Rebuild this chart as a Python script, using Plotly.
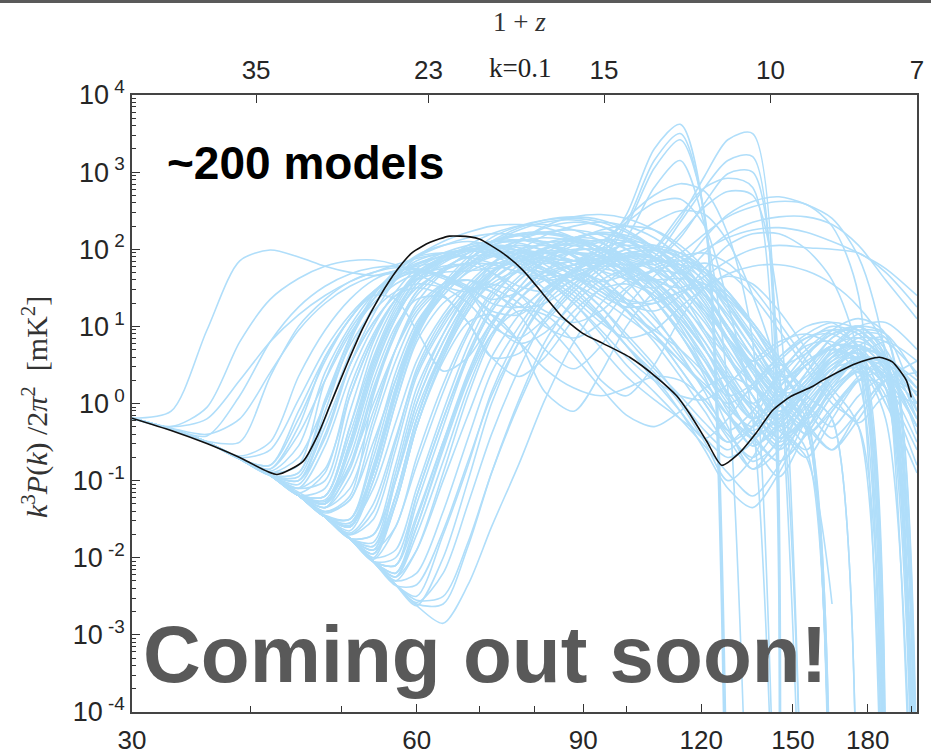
import math
import plotly.graph_objects as go

# ---------------------------------------------------------------------------
# Frequency grid (MHz) shared by the model ensemble
FREQ_GRID = [30, 33, 36, 39, 42, 45, 48, 51, 54, 57, 60, 64, 68, 72, 77,
             82, 88, 94, 100, 107, 114, 121, 128, 136, 145, 155, 165, 176,
             188, 202.9]

# Common adiabatic branch shared by all models before coupling (log10 mK^2)
COLD = [-0.19, -0.33, -0.50, -0.72, -0.93, -1.19, -1.47, -1.75, -2.05,
        -2.35, -2.62, -2.95]

# Models with early Ly-alpha coupling (log10 power on FREQ_GRID)
early_coupling = [
    [-0.19, -0.1, 0.95, 1.85, 1.99, 1.90, 1.78, 1.70, 1.66, 1.70, 1.80, 1.92, 2.02, 2.05, 1.98,
     1.80, 1.55, 1.25, 0.9, 0.5, 0.05, -0.35, -0.6, -0.3, 0.2, 0.55, 0.7, 0.5, -0.2, -8],
    [-0.19, -0.3, -0.05, 0.8, 1.35, 1.62, 1.78, 1.85, 1.86, 1.80, 1.68, 1.52, 1.45, 1.6, 1.85,
     2.02, 2.05, 1.9, 1.6, 1.15, 0.65, 0.15, -0.35, -0.1, 0.4, 0.75, 0.8, 0.45, -8],
    [-0.19, -0.33, -0.42, 0.1, 0.8, 1.25, 1.52, 1.68, 1.76, 1.78, 1.74, 1.62, 1.48, 1.52, 1.72,
     1.95, 2.12, 2.08, 1.88, 1.5, 1.0, 0.45, -0.1, -0.55, -0.25, 0.25, 0.6, 0.65, 0.3, -0.5],
    [-0.19, -0.33, -0.49, -0.5, 0.35, 1.0, 1.35, 1.58, 1.7, 1.76, 1.75, 1.66, 1.52, 1.3, 1.25,
     1.48, 1.75, 1.88, 1.72, 1.35, 0.9, 0.35, -0.3, -0.85, -0.45, 0.1, 0.45, 0.5, -8],
    [-0.19, -0.33, -0.50, -0.68, -0.5, 0.35, 0.95, 1.35, 1.6, 1.72, 1.74, 1.66, 1.45, 1.05, 0.78,
     0.92, 1.3, 1.6, 1.72, 1.58, 1.22, 0.72, 0.12, -0.5, -0.95, -0.35, 0.2, 0.42, 0.1, -8],
    [-0.19, -0.3, -0.2, 0.3, 0.8, 1.15, 1.4, 1.58, 1.7, 1.8, 1.88, 1.95, 2.0, 2.0, 1.92,
     1.75, 1.5, 1.15, 0.75, 0.3, -0.1, -0.45, -0.2, 0.25, 0.6, 0.85, 0.9, 0.6, -8],
    [-0.19, -0.32, -0.4, -0.2, 0.4, 0.95, 1.3, 1.52, 1.65, 1.72, 1.78, 1.85, 1.95, 2.08, 2.18,
     2.2, 2.12, 1.95, 1.7, 1.35, 0.9, 0.4, -0.05, -0.3, 0.1, 0.5, 0.7, 0.55, 0.0, -0.9],
]

mid_coupling = [
    COLD[:4] + [-0.85, -0.3, 0.6, 1.1, 1.45, 1.68, 1.82, 1.9, 1.9, 1.82, 1.7, 1.65, 1.8, 2.0,
                2.1, 2.05, 1.85, 1.45, 0.95, 0.4, -0.1, 0.2, 0.6, 0.85, 0.8, 0.4],
    COLD[:4] + [-0.9, -0.8, 0.3, 0.95, 1.35, 1.62, 1.8, 1.95, 2.05, 2.1, 2.08, 1.98, 1.8, 1.55,
                1.2, 0.8, 0.35, -0.1, -0.5, -0.2, 0.35, 0.8, 1.0, 0.9, 0.4, -8],
    COLD[:5] + [-1.1, -1.0, 0.1, 0.85, 1.35, 1.65, 1.88, 2.02, 2.1, 2.12, 2.05, 1.92, 1.72,
                1.45, 1.1, 0.7, 0.3, -0.15, -0.55, -0.3, 0.15, 0.5, 0.6, 0.3, -8],
    COLD[:5] + [-1.15, -1.3, -0.5, 0.55, 1.15, 1.5, 1.72, 1.82, 1.8, 1.7, 1.6, 1.65, 1.8,
                1.92, 1.9, 1.7, 1.3, 0.8, 0.25, -0.3, -0.7, -0.2, 0.3, 0.5, 0.2],
    COLD[:5] + [-1.18, -1.4, -1.2, 0.1, 0.9, 1.4, 1.72, 1.95, 2.1, 2.2, 2.22, 2.15, 2.0,
                1.78, 1.5, 1.15, 0.7, 0.25, -0.2, 0.1, 0.5, 0.75, 0.7, -8],
    COLD[:4] + [-0.9, -0.7, 0.0, 0.75, 1.2, 1.45, 1.55, 1.5, 1.3, 1.0, 0.85, 1.1, 1.5, 1.8,
                1.95, 1.9, 1.7, 1.35, 0.85, 0.3, -0.25, -0.6, -0.1, 0.35, 0.55, 0.3],
    COLD[:3] + [-0.7, -0.6, 0.05, 0.7, 1.15, 1.45, 1.62, 1.7, 1.65, 1.5, 1.35, 1.45, 1.72,
                1.98, 2.12, 2.1, 1.95, 1.65, 1.2, 0.65, 0.1, -0.45, -0.15, 0.3, 0.55, 0.45, -8],
    COLD[:4] + [-0.88, -0.55, 0.4, 1.0, 1.42, 1.7, 1.9, 2.05, 2.15, 2.2, 2.18, 2.08, 1.9,
                1.65, 1.3, 0.9, 0.45, 0.0, -0.4, -0.7, -0.3, 0.2, 0.55, 0.65, 0.35, -0.3],
    COLD[:5] + [-1.05, -0.4, 0.5, 1.05, 1.4, 1.6, 1.7, 1.72, 1.75, 1.85, 2.0, 2.15, 2.22,
                2.18, 2.02, 1.75, 1.4, 0.95, 0.5, 0.1, -0.3, -0.6, -0.1, 0.3, 0.4],
    COLD[:5] + [-1.16, -0.9, 0.2, 0.9, 1.35, 1.62, 1.78, 1.8, 1.7, 1.52, 1.45, 1.6, 1.82,
                2.0, 2.05, 1.95, 1.7, 1.3, 0.8, 0.25, -0.2, 0.15, 0.5, 0.6, 0.2],
]

late_coupling = [
    COLD[:6] + [-1.27, -0.8, 0.0, 0.7, 1.2, 1.55, 1.8, 1.98, 2.1, 2.15, 2.1, 1.95, 1.7,
                1.35, 0.9, 0.45, 0.0, -0.35, -0.05, 0.4, 0.75, 0.85, 0.5, -8],
    COLD[:6] + [-1.42, -1.25, -0.5, 0.3, 0.95, 1.4, 1.72, 1.95, 2.12, 2.22, 2.25, 2.18, 2.0,
                1.72, 1.35, 0.9, 0.4, -0.1, -0.5, -0.2, 0.3, 0.6, 0.5, -8],
    COLD[:7] + [-1.58, -1.1, -0.25, 0.55, 1.15, 1.55, 1.82, 1.95, 1.95, 1.85, 1.72, 1.62,
                1.6, 1.62, 1.55, 1.3, 0.8, 0.2, -0.3, -8],
    COLD[:8] + [-1.7, -1.0, -0.1, 0.7, 1.25, 1.65, 1.92, 2.08, 2.15, 2.12, 2.0, 1.8, 1.5,
                1.1, 0.6, 0.1, -0.3, 0.05, 0.45, 0.7, 0.6, 0.1],
    COLD[:8] + [-2.02, -1.6, -0.8, 0.15, 0.9, 1.4, 1.75, 2.0, 2.15, 2.2, 2.15, 2.0, 1.75,
                1.4, 0.95, 0.45, 0.0, -0.4, -0.1, 0.3, 0.4, -0.2],
    COLD[:9] + [-2.25, -1.9, -1.0, -0.15, 0.6, 1.15, 1.5, 1.7, 1.78, 1.75, 1.62, 1.4, 1.05,
                0.6, 0.1, -0.35, -0.7, -2.6],
    COLD[:9] + [-2.36, -2.35, -1.65, -0.75, 0.1, 0.8, 1.3, 1.62, 1.82, 1.9, 1.88, 1.75, 1.5,
                1.1, 0.6, 0.15, 0.2, 0.55, 0.75, 0.55, -0.1],
    COLD[:10] + [-2.62, -2.85, -2.35, -1.6, -0.78, 0.05, 0.8, 1.3, 1.6, 1.72, 1.68, 1.5,
                 1.15, 0.7, 0.2, -0.3, -8],
    COLD[:7] + [-1.68, -1.3, -0.45, 0.4, 1.05, 1.5, 1.78, 1.9, 1.88, 1.75, 1.55, 1.35, 1.3,
                1.45, 1.55, 1.4, 1.0, 0.45, -0.1, -10],
    COLD[:9] + [-2.1, -1.45, -0.5, 0.35, 1.0, 1.5, 1.85, 2.05, 2.12, 2.05, 1.88, 1.6, 1.25,
                0.8, 0.3, -0.1, 0.25, 0.6, 0.75, 0.45, -0.3],
    COLD[:10] + [-2.58, -2.2, -1.3, -0.4, 0.45, 1.1, 1.55, 1.85, 2.0, 2.02, 1.9, 1.65, 1.3,
                 0.85, 0.4, 0.0, -0.3, 0.1, 0.35, 0.0],
]

band_models = [
    COLD[:6] + [-1.3, -0.6, 0.4, 1.1, 1.55, 1.85, 2.05, 2.2, 2.3, 2.32, 2.25, 2.1, 1.85,
                1.5, 1.05, 0.55, 0.05, -0.4, -0.75, -0.4, 0.1, 0.45, 0.35, -8],
    COLD[:7] + [-1.55, -0.9, 0.1, 0.95, 1.5, 1.85, 2.08, 2.25, 2.35, 2.38, 2.3, 2.12, 1.85,
                1.45, 0.95, 0.45, 0.0, -0.2, 0.15, 0.6, 0.9, 0.85, -6],
    COLD[:5] + [-1.0, -0.2, 0.65, 1.25, 1.6, 1.72, 1.65, 1.45, 1.2, 1.15, 1.4, 1.72, 1.95,
                2.05, 2.0, 1.8, 1.45, 1.0, 0.5, 0.0, -0.3, 0.2, 0.6, 0.8, 0.55],
    COLD[:8] + [-1.9, -1.2, -0.2, 0.65, 1.25, 1.68, 1.98, 2.18, 2.3, 2.35, 2.3, 2.15, 1.9,
                1.55, 1.1, 0.6, 0.15, -0.25, -0.6, -0.2, 0.3, 0.55],
    COLD[:6] + [-1.35, -0.95, -0.1, 0.7, 1.25, 1.55, 1.6, 1.45, 1.25, 1.3, 1.55, 1.8, 1.95,
                1.98, 1.9, 1.7, 1.4, 1.0, 0.55, 0.1, -0.2, -12],
    COLD[:4] + [-0.85, -0.4, 0.3, 0.9, 1.3, 1.55, 1.68, 1.75, 1.82, 1.95, 2.12, 2.28, 2.35,
                2.3, 2.15, 1.9, 1.55, 1.15, 0.7, 0.25, -0.15, 0.15, 0.5, 0.7, 0.6, 0.1],
    COLD[:9] + [-2.2, -1.6, -0.55, 0.35, 1.0, 1.5, 1.85, 2.1, 2.25, 2.3, 2.25, 2.05, 1.75,
                1.35, 0.9, 0.5, 0.65, 0.9, 1.0, 0.6, -8],
    COLD[:7] + [-1.7, -1.4, -0.5, 0.45, 1.1, 1.45, 1.55, 1.42, 1.2, 1.05, 1.2, 1.5, 1.72,
                1.8, 1.7, 1.45, 1.05, 0.6, 0.2, 0.45, 0.75, 0.85, -5],
    COLD[:6] + [-1.4, -1.25, -0.3, 0.55, 1.15, 1.5, 1.6, 1.5, 1.3, 1.0, 0.85, 1.05, 1.45,
                1.75, 1.85, 1.75, 1.45, 1.0, 0.45, -0.05, -0.45, -0.1, 0.3, 0.15],
    COLD[:10] + [-2.6, -2.6, -1.85, -0.9, 0.05, 0.8, 1.35, 1.7, 1.92, 2.0, 1.95, 1.75, 1.45,
                 1.05, 0.6, 0.2, 0.45, 0.7, 0.6, 0.0],
    COLD[:8] + [-2.0, -1.9, -1.1, -0.1, 0.75, 1.35, 1.75, 2.0, 2.15, 2.2, 2.12, 1.95, 1.7,
                1.4, 1.0, 0.6, 0.3, 0.5, 0.75, 0.7, 0.2, -0.6],
    COLD[:5] + [-1.1, -0.85, 0.1, 0.85, 1.35, 1.65, 1.85, 1.98, 2.05, 2.02, 1.88, 1.65, 1.4,
                1.25, 1.3, 1.45, 1.5, 1.35, 1.0, 0.55, 0.1, -0.2, -8],
    COLD[:7] + [-1.6, -0.85, 0.2, 1.0, 1.55, 1.9, 2.15, 2.3, 2.38, 2.4, 2.35, 2.22, 2.02,
                1.75, 1.4, 1.0, 0.55, 0.75, 1.0, 1.05, 0.7, 0.0],
    COLD[:9] + [-2.1, -1.2, -0.2, 0.6, 1.2, 1.6, 1.85, 1.98, 2.0, 1.92, 1.75, 1.5, 1.2,
                0.85, 0.45, 0.05, -0.4, -0.05, 0.3, 0.2, -9],
    COLD[:6] + [-1.45, -1.5, -0.85, 0.15, 0.95, 1.5, 1.85, 2.08, 2.2, 2.22, 2.15, 2.0, 1.75,
                1.45, 1.1, 0.7, 0.3, 0.0, 0.35, 0.7, 0.95, 0.9, 0.5, -0.2],
]

# Models whose power falls early, after a modest heating peak
early_heating = [
    COLD[:5] + [-0.9, 0.0, 0.85, 1.4, 1.72, 1.9, 1.95, 1.88, 1.7, 1.42, 1.05, 0.62, 0.2,
                -0.15, -0.3, -0.1, 0.2, 0.35, 0.2, -0.2, -0.6, -8],
    COLD[:6] + [-1.2, -0.3, 0.7, 1.3, 1.68, 1.9, 1.98, 1.92, 1.75, 1.48, 1.12, 0.72, 0.35,
                0.05, -0.2, -0.45, -0.7, -0.5, 0.05, 0.5, 0.7, 0.55, -8],
    COLD[:7] + [-1.6, -0.9, 0.1, 0.9, 1.4, 1.7, 1.82, 1.78, 1.6, 1.3, 0.9, 0.5, 0.15, -0.2,
                -0.55, -0.9, -1.2, -0.8, -0.1, 0.35, 0.5, 0.2, -9],
    COLD[:8] + [-1.95, -1.3, -0.3, 0.6, 1.2, 1.55, 1.72, 1.7, 1.55, 1.25, 0.85, 0.45, 0.1,
                -0.25, -0.5, -0.3, 0.2, 0.65, 0.9, 0.95, 0.6, -0.4],
    COLD[:9] + [-2.25, -1.7, -0.75, 0.2, 0.9, 1.35, 1.6, 1.68, 1.6, 1.35, 1.0, 0.6, 0.2,
                -0.15, -0.45, -0.75, -0.4, 0.1, 0.4, -8],
    COLD[:4] + [-0.8, -0.1, 0.6, 1.1, 1.45, 1.65, 1.72, 1.65, 1.45, 1.15, 0.8, 0.45, 0.2,
                0.1, 0.2, 0.35, 0.3, 0.05, -0.35, -0.75, -0.5, 0.0, 0.35, 0.45, -7],
    COLD[:10] + [-2.55, -2.5, -1.8, -0.9, 0.0, 0.7, 1.2, 1.48, 1.55, 1.4, 1.1, 0.7, 0.3,
                 -0.1, -0.45, -0.2, 0.25, 0.55, 0.5, -8],
    COLD[:6] + [-1.3, -0.85, 0.15, 0.95, 1.45, 1.75, 1.9, 1.92, 1.85, 1.72, 1.55, 1.35,
                1.12, 0.85, 0.55, 0.25, 0.0, 0.2, 0.55, 0.85, 0.95, 0.75, 0.2, -8],
    COLD[:7] + [-1.7, -1.5, -0.6, 0.35, 1.0, 1.45, 1.72, 1.85, 1.85, 1.72, 1.5, 1.22, 0.9,
                0.55, 0.2, -0.15, -0.45, -0.15, 0.3, 0.65, 0.8, 0.6, 0.0],
    COLD[:5] + [-1.1, -0.55, 0.35, 1.0, 1.45, 1.75, 1.92, 1.98, 1.95, 1.82, 1.6, 1.3, 0.95,
                0.6, 0.3, 0.1, 0.05, 0.25, 0.55, 0.8, 0.9, 0.75, 0.3, -8],
    COLD[:8] + [-1.9, -1.6, -0.7, 0.25, 0.95, 1.45, 1.8, 2.0, 2.08, 2.02, 1.85, 1.6, 1.3,
                0.95, 0.6, 0.25, 0.0, 0.3, 0.7, 0.95, 0.9, 0.35],
    COLD[:9] + [-2.3, -2.2, -1.4, -0.45, 0.4, 1.0, 1.45, 1.72, 1.85, 1.85, 1.72, 1.5, 1.2,
                0.85, 0.5, 0.15, 0.35, 0.75, 1.0, 0.9, -0.1],
    COLD[:6] + [-1.35, -1.1, -0.2, 0.7, 1.3, 1.7, 1.95, 2.1, 2.18, 2.2, 2.15, 2.02, 1.82,
                1.55, 1.2, 0.8, 0.35, -0.05, -0.35, -0.05, 0.4, 0.7, 0.55, -8],
    COLD[:7] + [-1.6, -1.0, 0.0, 0.85, 1.45, 1.85, 2.1, 2.28, 2.38, 2.42, 2.38, 2.25, 2.02,
                1.7, 1.3, 0.85, 0.4, 0.0, 0.3, 0.65, 0.75, 0.4, -8],
    COLD[:8] + [-1.85, -1.2, -0.2, 0.7, 1.35, 1.8, 2.1, 2.3, 2.42, 2.45, 2.4, 2.25, 2.0,
                1.65, 1.2, 0.7, 0.2, -0.2, -8],
    COLD[:5] + [-1.0, -0.45, 0.5, 1.15, 1.6, 1.9, 2.1, 2.22, 2.3, 2.32, 2.28, 2.15, 1.95,
                1.68, 1.35, 0.95, 0.55, 0.15, -0.2, 0.1, 0.5, 0.75, 0.7, 0.2, -0.8],
]

# Models whose power dips between the coupling and heating peaks
dip_models = [
    COLD[:4] + [-0.8, -0.2, 0.55, 1.1, 1.4, 1.35, 0.95, 0.42, 0.6, 1.05, 1.45, 1.72, 1.85,
                1.85, 1.72, 1.5, 1.15, 0.7, 0.25, -0.2, -0.55, -0.15, 0.3, 0.5, 0.2, -8],
    COLD[:6] + [-1.3, -0.7, 0.3, 1.0, 1.35, 1.38, 1.05, 0.6, 0.65, 1.05, 1.45, 1.75, 1.9,
                1.88, 1.72, 1.4, 0.95, 0.45, 0.0, -0.35, -8],
    COLD[:8] + [-1.95, -1.3, -0.3, 0.55, 1.05, 1.15, 0.8, 0.15, -0.1, 0.4, 1.0, 1.45, 1.72,
                1.82, 1.7, 1.4, 0.95, 0.45, 0.0, -0.3, -7],
    COLD[:5] + [-1.0, -0.3, 0.5, 1.05, 1.4, 1.5, 1.4, 1.05, 0.6, 0.35, 0.6, 1.1, 1.5, 1.75,
                1.85, 1.8, 1.6, 1.25, 0.8, 0.35, 0.5, 0.85, 1.0, 0.6, -8],
    COLD[:7] + [-1.65, -1.0, 0.0, 0.8, 1.3, 1.5, 1.45, 1.15, 0.7, 0.45, 0.75, 1.25, 1.65,
                1.9, 1.95, 1.82, 1.5, 1.05, 0.55, 0.1, -0.25, 0.1, 0.0],
    COLD[:9] + [-2.25, -1.6, -0.6, 0.3, 0.9, 1.2, 1.15, 0.8, 0.3, 0.1, 0.5, 1.1, 1.5, 1.65,
                1.55, 1.2, 0.7, 0.2, -0.3, -8],
]

# Models with a deep trough and a late reionization bump
tail_models = [
    COLD[:5] + [-0.95, -0.1, 0.8, 1.35, 1.7, 1.92, 2.05, 2.1, 2.05, 1.92, 1.72, 1.45, 1.12,
                0.75, 0.35, -0.1, -0.6, -1.1, -1.35, -0.9, -0.2, 0.35, 0.6, 0.4, -0.3],
    COLD[:7] + [-1.5, -0.7, 0.3, 1.0, 1.5, 1.85, 2.05, 2.12, 2.08, 1.92, 1.65, 1.3, 0.9,
                0.45, 0.0, -0.45, -0.85, -0.6, 0.1, 0.7, 1.0, 1.05, 0.7],
    COLD[:6] + [-1.2, -0.3, 0.6, 1.25, 1.65, 1.9, 2.0, 1.98, 1.85, 1.65, 1.4, 1.1, 0.75,
                0.4, 0.0, -0.5, -1.0, -0.7, 0.0, 0.6, 0.95, 1.1, 0.9, -8],
    COLD[:8] + [-1.85, -1.0, 0.0, 0.8, 1.35, 1.7, 1.9, 1.98, 1.95, 1.85, 1.65, 1.4, 1.05,
                0.6, 0.1, -0.4, -0.2, 0.4, 0.85, 1.0, 0.7, -0.2],
    COLD[:9] + [-2.0, -1.2, -0.2, 0.65, 1.25, 1.65, 1.9, 2.0, 1.98, 1.85, 1.6, 1.25, 0.8,
                0.3, -0.2, -0.6, -0.2, 0.3, 0.6, -11],
    COLD[:6] + [-1.25, -0.55, 0.45, 1.1, 1.55, 1.82, 1.98, 2.05, 2.02, 1.9, 1.7, 1.45, 1.2,
                0.95, 0.7, 0.4, 0.1, 0.25, 0.6, 0.9, 1.05, 0.95, 0.5, -8],
]

# Strong absorption models (tall peaks before reionization ends)
absorption_peaks = [
    COLD[:7] + [-1.6, -0.8, 0.2, 0.95, 1.45, 1.75, 1.9, 1.95, 1.9, 1.85, 2.0, 2.45, 3.3,
                3.62, 2.4, -8],
    COLD[:8] + [-1.7, -0.8, 0.2, 0.9, 1.4, 1.7, 1.85, 1.88, 1.85, 1.95, 2.35, 3.15, 3.5,
                2.4, -7],
    COLD[:6] + [-1.2, -0.4, 0.55, 1.2, 1.6, 1.85, 1.98, 2.02, 1.98, 1.9, 1.85, 1.9, 2.3,
                3.05, 3.42, 2.45, -6],
    COLD[:9] + [-2.2, -1.5, -0.5, 0.4, 1.05, 1.45, 1.7, 1.8, 1.85, 2.15, 2.8, 3.15, 2.3,
                0.2, -8],
    COLD[:8] + [-2.0, -1.3, -0.3, 0.6, 1.2, 1.6, 1.85, 1.95, 1.95, 1.9, 1.88, 2.0, 2.4,
                2.95, 3.42, 3.5, -8],
    COLD[:7] + [-1.5, -0.6, 0.4, 1.05, 1.5, 1.78, 1.92, 1.98, 1.95, 1.85, 1.75, 1.72, 1.9,
                2.35, 2.8, 3.15, 3.2, -6],
    COLD[:9] + [-2.3, -1.9, -0.9, 0.1, 0.85, 1.35, 1.65, 1.8, 1.82, 1.8, 1.85, 2.15, 2.6,
                2.98, 3.0, 0.5, -8],
    COLD[:6] + [-1.1, -0.1, 0.8, 1.35, 1.7, 1.9, 2.0, 1.98, 1.88, 1.75, 1.62, 1.58, 1.68,
                2.0, 2.45, 2.8, 2.92, 2.8, -7],
    COLD[:8] + [-1.9, -1.0, 0.0, 0.8, 1.35, 1.7, 1.9, 1.98, 1.95, 1.85, 1.75, 1.85, 2.2,
                2.55, 2.75, 2.7, 1.2, -8],
    COLD[:7] + [-1.55, -0.9, 0.15, 0.95, 1.5, 1.85, 2.05, 2.12, 2.1, 2.05, 2.1, 2.35, 2.6,
                2.65, 2.3, 1.3, -0.2, -8],
    COLD[:5] + [-0.9, 0.05, 0.85, 1.35, 1.65, 1.85, 1.95, 1.98, 1.95, 1.88, 1.82, 1.85,
                2.05, 2.4, 2.7, 2.85, 2.75, 2.2, 0.8, -8],
    COLD[:10] + [-2.62, -2.0, -1.0, 0.0, 0.8, 1.35, 1.7, 1.9, 2.1, 2.35, 2.5, 2.45, 2.1,
                 1.4, 0.3, -8],
]

# Late, broad absorption arcs near the end of reionization
broad_arcs = [
    COLD[:8] + [-1.8, -0.9, 0.1, 0.9, 1.45, 1.8, 2.0, 2.05, 1.98, 1.82, 1.6, 1.5, 1.75,
                2.15, 2.45, 2.62, 2.68, 2.58, 2.4, 1.9, 0.6, -8],
    COLD[:6] + [-1.3, -0.5, 0.5, 1.15, 1.6, 1.88, 2.02, 2.05, 1.98, 1.85, 1.65, 1.45, 1.3,
                1.35, 1.6, 1.95, 2.2, 2.35, 2.42, 2.42, 2.32, 2.05, 1.6, 1.1],
    COLD[:9] + [-2.1, -1.3, -0.3, 0.6, 1.2, 1.6, 1.85, 1.95, 1.92, 1.8, 1.6, 1.5, 1.65,
                1.85, 2.0, 2.05, 2.02, 2.0, 1.95, 1.7, 1.25],
    COLD[:7] + [-1.6, -0.9, 0.1, 0.9, 1.45, 1.8, 2.0, 2.05, 1.98, 1.8, 1.55, 1.3, 1.2, 1.4,
                1.75, 2.05, 2.2, 2.2, 2.0, 1.6, 0.6, -8],
    COLD[:8] + [-1.95, -1.2, -0.2, 0.7, 1.3, 1.7, 1.95, 2.08, 2.1, 2.02, 1.88, 1.8, 1.95,
                2.2, 2.42, 2.55, 2.62, 2.58, 2.3, 1.4, -8],
    COLD[:6] + [-1.35, -0.8, 0.2, 0.95, 1.45, 1.75, 1.9, 1.92, 1.82, 1.62, 1.35, 1.05, 0.85,
                0.95, 1.25, 1.5, 1.68, 1.78, 1.8, 1.72, 1.55, 1.25, 0.7, -8],
    COLD[:10] + [-2.5, -1.7, -0.8, 0.15, 0.9, 1.4, 1.72, 1.88, 1.9, 1.85, 1.85, 2.0, 2.15,
                 2.25, 2.28, 2.22, 2.1, 1.95, 1.75, 1.4],
]

# Reference model drawn in black
fiducial_freq = [30, 33, 36, 39, 42.7, 45.5, 47.2, 48.6, 50.6, 52.6, 54.8, 57.2,
                 59.4, 62.0, 65.0, 68.3, 70.0, 74.0, 77.7, 81.5, 85.6, 89.9, 94.4, 100.8,
                 107.6, 113.0, 116.6, 121.6, 126.1, 131.7, 137.2, 142.7, 148.7, 157.3,
                 161.2, 175.0, 185.1, 191.1, 197.7, 200.1]
fiducial_log10 = [-0.19, -0.35, -0.52, -0.70, -0.92, -0.75, -0.40, -0.02, 0.50, 0.97,
                  1.38, 1.73, 1.96, 2.09, 2.17, 2.16, 2.13, 1.95, 1.73, 1.43, 1.12, 0.91,
                  0.78, 0.60, 0.34, 0.10, -0.13, -0.49, -0.80, -0.64, -0.38, -0.09, 0.08,
                  0.22, 0.30, 0.52, 0.60, 0.54, 0.30, 0.08]

# Axis ticks
NU21 = 1420.4                      # rest frequency of the 21-cm line, MHz
x_tick_vals = [30, 60, 90, 120, 150, 180]
x_minor_vals = [40, 50, 70, 80, 100, 200]
redshift_ticks = [35, 23, 15, 10, 7]   # values of 1+z on the top axis
y_exponents = [4, 3, 2, 1, 0, -1, -2, -3, -4]

FREQ_MIN = 30
FREQ_MAX = NU21 / 7

ENSEMBLE_COLOR = "rgb(176,222,250)"
SANS = "Arial, 'Liberation Sans', sans-serif"
SERIF = "'Times New Roman', 'Liberation Serif', serif"

fig = go.Figure()

all_models = (early_coupling + mid_coupling + late_coupling + band_models +
              early_heating + dip_models + tail_models + absorption_peaks + broad_arcs)
for model in all_models:
    assert len(model) <= len(FREQ_GRID)
    fig.add_trace(go.Scatter(
        x=FREQ_GRID[:len(model)],
        y=[10 ** v for v in model],
        mode="lines",
        line=dict(color=ENSEMBLE_COLOR, width=1.6, shape="spline", smoothing=0.8),
        hoverinfo="skip", showlegend=False,
    ))

fig.add_trace(go.Scatter(
    x=fiducial_freq,
    y=[10 ** v for v in fiducial_log10],
    mode="lines",
    line=dict(color="#111111", width=1.6, shape="spline", smoothing=0.6),
    hoverinfo="skip", showlegend=False,
))

# Invisible trace carrying the top (1+z) axis
fig.add_trace(go.Scatter(x=[FREQ_MIN, FREQ_MAX], y=[1, 1], xaxis="x2", mode="lines",
                         line=dict(width=0), hoverinfo="skip", showlegend=False))

x_range = [math.log10(FREQ_MIN), math.log10(FREQ_MAX)]
y_minor = [m * 10.0 ** e for e in range(-4, 4) for m in range(2, 10)]

fig.update_layout(
    width=931, height=752,
    margin=dict(l=132, r=14, t=95, b=40),
    paper_bgcolor="white", plot_bgcolor="white",
    font=dict(family=SANS, color="#262626"),
    xaxis=dict(
        type="log", range=x_range, automargin=False,
        tickvals=x_tick_vals, ticktext=[str(v) for v in x_tick_vals],
        ticks="inside", ticklen=8, tickwidth=1.2, tickcolor="#333",
        ticklabelstandoff=4,
        minor=dict(tickvals=x_minor_vals, ticks="inside", ticklen=6, tickwidth=1.2,
                   tickcolor="#333", showgrid=False),
        showgrid=False, zeroline=False,
        showline=True, linecolor="#444", linewidth=1.6, mirror=True,
        tickfont=dict(size=26, family=SANS, color="#262626"),
    ),
    xaxis2=dict(
        type="log", range=x_range, overlaying="x", side="top", automargin=False,
        tickvals=[NU21 / z for z in redshift_ticks],
        ticktext=[str(z) for z in redshift_ticks],
        ticks="inside", ticklen=8, tickwidth=1.2, tickcolor="#333",
        ticklabelstandoff=10,
        showgrid=False, zeroline=False, showline=False,
        tickfont=dict(size=26, family=SANS, color="#262626"),
    ),
    yaxis=dict(
        type="log", range=[-4, 4], automargin=False,
        tickvals=[10.0 ** e for e in y_exponents],
        ticktext=["10<sup> %d</sup>" % e for e in y_exponents],
        ticks="inside", ticklen=8, tickwidth=1.2, tickcolor="#333",
        minor=dict(tickvals=y_minor, ticks="inside", ticklen=4, tickwidth=1,
                   tickcolor="#333", showgrid=False),
        showgrid=False, zeroline=False,
        showline=True, linecolor="#444", linewidth=1.6, mirror=True,
        tickfont=dict(size=27, family=SANS, color="#262626"),
    ),
)

annotations = [
    dict(text="<i>k</i><sup>3</sup><i>P</i>(<i>k</i>) /2<i>π</i><sup>2</sup>  [mK<sup>2</sup>]",
         xref="paper", yref="paper", x=-0.123, y=0.495, xanchor="center", yanchor="middle",
         textangle=-90, showarrow=False, font=dict(family=SERIF, size=30, color="#333")),
    dict(text="1 + <i>z</i>", xref="paper", yref="paper", x=0.494, y=1.118,
         xanchor="center", yanchor="middle",
         showarrow=False, font=dict(family=SERIF, size=27, color="#333")),
    dict(text="k=0.1", xref="paper", yref="paper", x=0.494, y=1.044,
         xanchor="center", yanchor="middle",
         showarrow=False, font=dict(family=SERIF, size=27, color="#222")),
    dict(text="<b>~200 models</b>", xref="paper", yref="paper", x=0.042, y=0.890,
         xanchor="left", yanchor="middle",
         showarrow=False, font=dict(family=SANS, size=46, color="black")),
    dict(text="<b>Coming out soon!</b>", xref="paper", yref="paper", x=0.012, y=0.094,
         xanchor="left", yanchor="middle",
         showarrow=False, font=dict(family=SANS, size=80, color="#595959")),
]
fig.update_layout(annotations=annotations)

# thin dark band along the top edge of the page
fig.add_shape(type="rect", xref="paper", yref="paper",
              x0=-132 / 785, x1=1 + 14 / 785, y0=1 + 92 / 617, y1=1 + 95 / 617,
              line=dict(width=0), fillcolor="#5a5a5a")

fig.write_html("out.html")
